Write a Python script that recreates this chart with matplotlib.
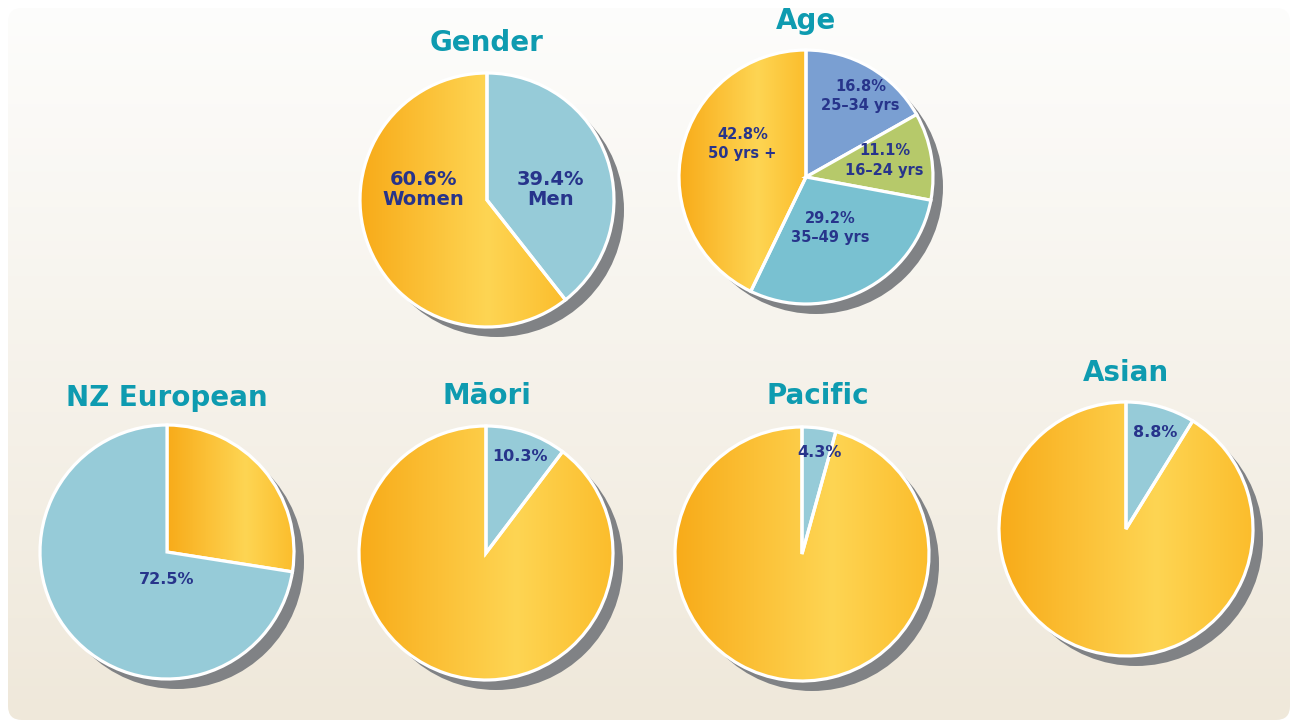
import numpy as np
import matplotlib.pyplot as plt
from matplotlib.patches import Circle, FancyBboxPatch
from matplotlib.colors import LinearSegmentedColormap

# survey breakdowns, slices listed clockwise from 12 o'clock
titles = ["Gender", "Age", "NZ European", "Māori", "Pacific", "Asian"]
values = [
    [39.4, 60.6],
    [16.8, 11.1, 29.2, 42.8],
    [27.5, 72.5],
    [10.3, 89.7],
    [4.3, 95.7],
    [8.8, 91.2],
]
labels = [
    ["39.4%\nMen", "60.6%\nWomen"],
    ["16.8%\n25–34 yrs", "11.1%\n16–24 yrs", "29.2%\n35–49 yrs", "42.8%\n50 yrs +"],
    ["", "72.5%"],
    ["10.3%", ""],
    ["4.3%", ""],
    ["8.8%", ""],
]
slice_colors = [
    ["#96cbd8", "gold"],
    ["#7a9fd2", "#b6c96a", "#79c1d1", "gold"],
    ["gold", "#96cbd8"],
    ["#96cbd8", "gold"],
    ["#96cbd8", "gold"],
    ["#96cbd8", "gold"],
]

# layout in pixels (y measured from top)
W, H = 1291, 722
centers = [(487, 200), (806, 177), (167, 552), (486, 553), (802, 554), (1126, 529)]
radius = 127
title_pos = [(487, 43), (806, 21), (167, 398), (487, 396), (818, 396), (1126, 373)]
# label offsets from centre, in units of radius (x right, y down)
label_off = [
    [(0.50, -0.08), (-0.50, -0.08)],
    [(0.43, -0.64), (0.62, -0.13), (0.19, 0.40), (-0.50, -0.26)],
    [(0, 0), (0.0, 0.22)],
    [(0.27, -0.76), (0, 0)],
    [(0.14, -0.80), (0, 0)],
    [(0.23, -0.76), (0, 0)],
]

NAVY = "#27348b"
TEAL = "#0e9bb0"
SHADOW = "#808285"

yellow = LinearSegmentedColormap.from_list(
    "yl", [(0, "#f8ab19"), (0.62, "#fed553"), (1, "#fbbd2c")])

fig = plt.figure(figsize=(W / 100, H / 100), dpi=100)
ax = fig.add_axes([0, 0, 1, 1])

for i, vals in enumerate(values):
    cx, cy = centers[i][0], H - centers[i][1]
    ax.add_patch(Circle((cx + 10, cy - 10), radius, color=SHADOW, lw=0, zorder=1))
    wedges, _ = ax.pie(vals, colors=slice_colors[i], startangle=90, counterclock=False,
                       center=(cx, cy), radius=radius,
                       wedgeprops=dict(edgecolor="white", linewidth=2.3, zorder=3))
    for w, col in zip(wedges, slice_colors[i]):
        if col != "gold":
            continue
        ext = w.get_path().get_extents()
        grad = np.linspace(0, 1, 256).reshape(1, -1)
        im = ax.imshow(grad, cmap=yellow, aspect="auto", zorder=2,
                       extent=(ext.x0, ext.x1, ext.y0, ext.y1))
        im.set_clip_path(w)
        w.set_facecolor("none")
    for j, txt in enumerate(labels[i]):
        if not txt:
            continue
        ox, oy = label_off[i][j]
        fs = 10.5 if i == 1 else (14 if i == 0 else 11.5)
        ls = 1.35 if i == 1 else 1.05
        ax.text(cx + ox * radius, cy - oy * radius, txt, ha="center", va="center",
                fontsize=fs, fontweight="bold", color=NAVY, linespacing=ls, zorder=5)
    tx, ty = title_pos[i]
    ax.text(tx, H - ty, titles[i], ha="center", va="center", fontsize=20,
            fontweight="bold", color=TEAL, zorder=5)

# background panel with soft vertical gradient
panel = FancyBboxPatch((8, 2), 1282, 712, boxstyle="round,pad=0,rounding_size=14",
                       facecolor="none", edgecolor="none")
ax.add_patch(panel)
bg = LinearSegmentedColormap.from_list("bg", ["#efe8da", "#fdfdfc"])
bgim = ax.imshow(np.linspace(0, 1, 256).reshape(-1, 1), cmap=bg, origin="lower",
                 aspect="auto", extent=(0, W, 0, H), zorder=0)
bgim.set_clip_path(panel)

ax.set_xlim(0, W)
ax.set_ylim(0, H)
ax.set_aspect("auto")
ax.axis("off")
fig.savefig("out.png", dpi=100, facecolor="white")
